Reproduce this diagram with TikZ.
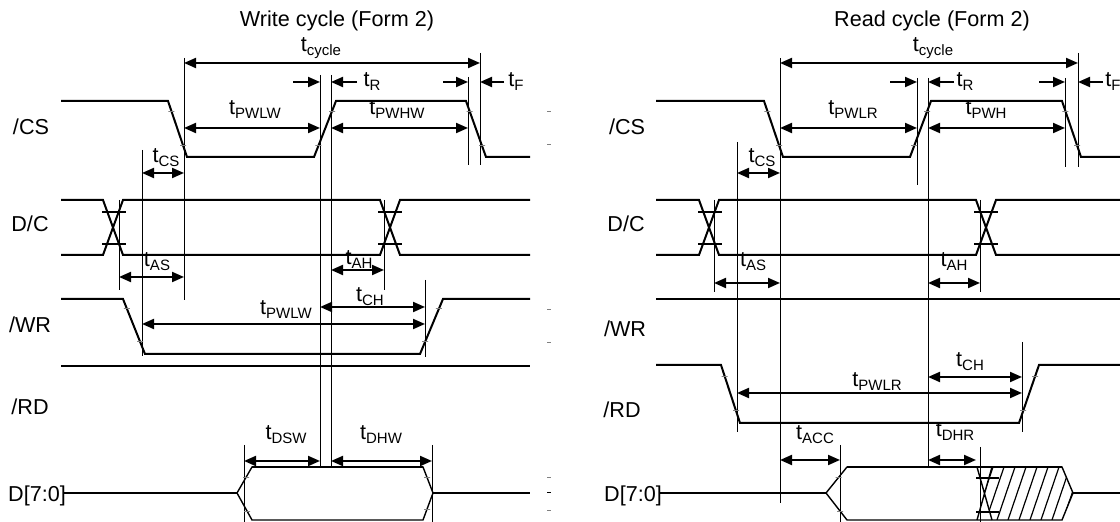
\documentclass[tikz,border=0pt]{standalone}
\usepackage{fontspec}
\setmainfont{Liberation Sans}
\usetikzlibrary{arrows.meta}

\newcommand{\tsub}[1]{t\raisebox{-2pt}{\fontsize{7.5}{9}\selectfont #1}}

\begin{document}
\begin{tikzpicture}[x=0.5pt,y=-0.5pt,
  font=\fontsize{10.8}{13}\selectfont,
  sig/.style={line width=1pt},
  bus/.style={line width=0.7pt},
  guide/.style={line width=0.5pt},
  dim/.style={line width=1pt,{Triangle[length=6pt,width=5pt]}-{Triangle[length=6pt,width=5pt]}},
  half/.style={line width=1pt,-{Triangle[length=6pt,width=5pt]}},
  tk/.style={draw=gray,line width=0.4pt,inner sep=0pt,minimum width=3pt,minimum height=0pt},
  lbl/.style={anchor=base,inner sep=0pt}]
\useasboundingbox (0,0) rectangle (1120,522);
\clip (0,0) rectangle (1120,522);

% write cycle
\begin{scope}
\foreach \nm/\lx/\ly/\txt in {
    title/337/27/{Write cycle (Form 2)},
    cycle/321/52/{\tsub{cycle}},
    R/372/87/{\tsub{R}},
    F/516/87/{\tsub{F}},
    PWLW/255/115/{\tsub{PWLW}},
    PWHW/397/115/{\tsub{PWHW}},
    CS/166/163/{\tsub{CS}},
    AS/157/267/{\tsub{AS}},
    AH/359/265/{\tsub{AH}},
    CH/370/302/{\tsub{CH}},
    PWLWb/286/315/{\tsub{PWLW}},
    DSW/286/440/{\tsub{DSW}},
    DHW/381/440/{\tsub{DHW}},
    cs/31/135/{/CS},
    dc/30/232/{D/C},
    wr/30/333/{/WR},
    rd/30/415/{/RD},
    data/37/502/{D[7:0]}%
}{
  \node[lbl] (w\nm) at (\lx,\ly) {\txt};
}
\foreach \gx/\ya/\yb in {142/150/356, 184/58/300, 320/75/467, 331/75/467,
    119/200/290, 384/200/290, 480/53/165, 468/77/165, 425/280/357,
    244/445/522, 432/445/522}
  \draw[guide] (\gx,\ya) -- (\gx,\yb);
\foreach \xa/\xb/\yy in {184/480/63, 184/320/128, 331/468/128, 142/184/173,
    119/184/277, 331/384/270, 320/425/307, 142/425/324, 244/320/461, 331/432/461}
  \draw[dim] (\xa,\yy) -- (\xb,\yy);
\draw[half] (293,82) -- (320,82);
\draw[half] (357,82) -- (331,82);
\draw[half] (443,82) -- (468,82);
\draw[half] (504,82) -- (480,82);
% /CS
\draw[sig] (61,101) -- (168,101) -- (187,157) node[tk,pos=.18]{} node[tk,pos=.8]{}
  -- (314,157) -- (336,101) node[tk,pos=.2]{} node[tk,pos=.82]{}
  -- (466,101) -- (486,157) node[tk,pos=.18]{} node[tk,pos=.8]{} -- (530,157);
% D/C
\draw[sig] (61,200) -- (103,200) -- (123,255) -- (380,255) -- (400,200) -- (530,200);
\draw[sig] (61,255) -- (103,255) -- (123,200) -- (380,200) -- (400,255) -- (530,255);
\foreach \bx in {102,378} \foreach \by in {212,244} \draw[sig] (\bx,\by) -- ++(24,0);
% /WR and /RD
\draw[sig] (61,299) -- (123,299) -- (145,354) node[tk,pos=.18]{} node[tk,pos=.78]{}
  -- (420,354) -- (443,299) node[tk,pos=.22]{} node[tk,pos=.82]{} -- (530,299);
\draw[sig] (61,366) -- (530,366);
% D[7:0]
\draw[bus] (64,493) -- (237,493) (433,493) -- (530,493);
\draw[bus] (237,493) -- (252,467) node[tk,pos=.6]{} -- (423,467) -- (433,493)
  -- (423,520) node[tk,pos=.6]{} -- (252,520) -- (237,493) node[tk,pos=.33]{};
\path (423,467) -- (433,493) node[tk,pos=.4]{};
\draw[line width=1.3pt] (252,467) -- (423,467);
\foreach \yy in {111,144,309,342,477,510} \draw[gray,line width=0.4pt] (547,\yy) -- (551,\yy);
\draw[guide] (547,493) -- (551,493);
\end{scope}

% read cycle
\begin{scope}[xshift=297.5pt]
\foreach \nm/\lx/\ly/\txt in {
    title/337/27/{Read cycle (Form 2)},
    cycle/338/52/{\tsub{cycle}},
    R/370/87/{\tsub{R}},
    PWLR/258/115/{\tsub{PWLR}},
    PWH/391/115/{\tsub{PWH}},
    CS/167/163/{\tsub{CS}},
    AS/158/267/{\tsub{AS}},
    AH/359/267/{\tsub{AH}},
    CH/375/367/{\tsub{CH}},
    PWLRb/282/387/{\tsub{PWLR}},
    ACC/220/440/{\tsub{ACC}},
    DHR/360/437/{\tsub{DHR}},
    cs/32/135/{/CS},
    dc/31/232/{D/C},
    wr/30/337/{/WR},
    rd/27/418/{/RD},
    data/38/502/{D[7:0]}%
}{
  \node[lbl] (r\nm) at (\lx,\ly) {\txt};
}
\node[lbl,anchor=base west] (rF) at (510,87) {\tsub{F}};
\foreach \gx/\ya/\yb in {142/142/432, 185/58/503, 322/78/185, 333/78/467,
    483/53/167, 470/78/167, 119/200/292, 385/200/292, 427/342/432,
    245/445/522, 385/447/522}
  \draw[guide] (\gx,\ya) -- (\gx,\yb);
\foreach \xa/\xb/\yy in {185/483/63, 185/322/128, 333/470/128, 142/185/173,
    119/185/283, 333/385/283, 333/427/377, 142/427/393, 185/245/460, 333/381/460}
  \draw[dim] (\xa,\yy) -- (\xb,\yy);
\draw[half] (295,82) -- (322,82);
\draw[half] (359,82) -- (333,82);
\draw[half] (444,82) -- (470,82);
\draw[half] (508,82) -- (483,82);
% /CS
\draw[sig] (61,101) -- (169,101) -- (188,157) node[tk,pos=.18]{} node[tk,pos=.8]{}
  -- (315,157) -- (336,101) node[tk,pos=.2]{} node[tk,pos=.82]{}
  -- (467,101) -- (486,157) node[tk,pos=.18]{} node[tk,pos=.8]{} -- (530,157);
% D/C
\draw[sig] (61,200) -- (104,200) -- (124,255) -- (381,255) -- (401,200) -- (530,200);
\draw[sig] (61,255) -- (104,255) -- (124,200) -- (381,200) -- (401,255) -- (530,255);
\foreach \bx in {103,379} \foreach \by in {212,244} \draw[sig] (\bx,\by) -- ++(24,0);
% /WR and /RD
\draw[sig] (61,299) -- (530,299);
\draw[sig] (61,365) -- (126,365) -- (145,423) node[tk,pos=.19]{} node[tk,pos=.79]{}
  -- (424,423) -- (444,365) node[tk,pos=.21]{} node[tk,pos=.81]{} -- (530,365);
% D[7:0]
\draw[bus] (65,493) -- (231,493) (478,493) -- (530,493);
\draw[bus] (231,493) -- (252,467) node[tk,pos=.6]{} -- (467,467) -- (478,493)
  -- (467,520) -- (252,520) -- (231,493) node[tk,pos=.33]{};
\draw[line width=1.3pt] (252,467) -- (467,467);
\draw[bus] (382,467) -- (397,520) (397,467) -- (382,520);
\foreach \by in {478,512} \draw[sig] (381,\by) -- ++(23,0);
\begin{scope}
\clip (397,467) -- (467,467) -- (478,493) -- (467,520) -- (397,520) -- (389.5,493.5) -- cycle;
\foreach \hx in {380,391,...,480} \draw[line width=0.6pt] (\hx,520) -- ++(18,-53);
\end{scope}
\end{scope}
\end{tikzpicture}
\end{document}
